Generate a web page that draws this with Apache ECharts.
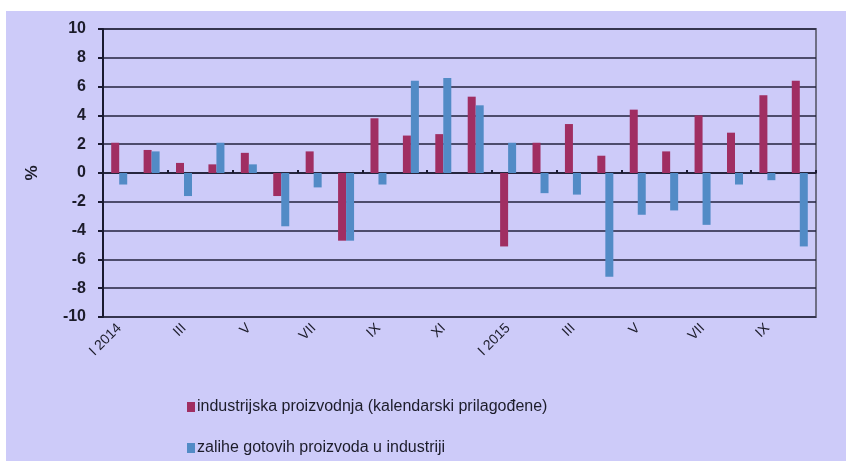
<!DOCTYPE html>
<html>
<head>
<meta charset="utf-8">
<script src="https://cdn.jsdelivr.net/npm/echarts@6/dist/echarts.min.js"></script>
<style>html,body{margin:0;padding:0;background:#fff}#c{width:846px;height:461px}</style>
</head>
<body>
<div id="c"></div>
<script>
const months = ['I 2014','II','III','IV','V','VI','VII','VIII','IX','X','XI','XII',
                'I 2015','II','III','IV','V','VI','VII','VIII','IX','X'];
const industrija = [2.1,1.6,0.7,0.6,1.4,-1.6,1.5,-4.7,3.8,2.6,2.7,5.3,
                    -5.1,2.1,3.4,1.2,4.4,1.5,4.0,2.8,5.4,6.4];
const zalihe = [-0.8,1.5,-1.6,2.1,0.6,-3.7,-1.0,-4.7,-0.8,6.4,6.6,4.7,
                2.1,-1.4,-1.5,-7.2,-2.9,-2.6,-3.6,-0.8,-0.5,-5.1];
const seriesNames = ['industrijska proizvodnja (kalendarski prilagođene)',
                     'zalihe gotovih proizvoda u industriji'];
const yMin = -10, yMax = 10, yStep = 2;

const chart = echarts.init(document.getElementById('c'));
const font = 'Liberation Sans, Arial, sans-serif';
const legendBase = {
  orient: 'horizontal', left: 182,
  itemWidth: 8, itemHeight: 10,
  icon: 'rect',
  textStyle: {fontFamily: font, fontSize: 16, color: '#1c1c2a', padding: [0,0,0,-3]}
};
chart.setOption({
  animation: false,
  backgroundColor: '#ffffff',
  graphic: [{
    type: 'rect', z: -10, silent: true,
    shape: {x: 6, y: 11, width: 840, height: 450},
    style: {fill: '#cdcbf9'}
  }],
  grid: {left: 103, right: 30, top: 29, bottom: 144,
         show: true, borderColor: '#6f6f86', borderWidth: 2, backgroundColor: '#cdcbf9'},
  legend: [
    Object.assign({}, legendBase, {top: 394, data: [seriesNames[0]]}),
    Object.assign({}, legendBase, {top: 435, data: [seriesNames[1]]})
  ],
  xAxis: [{
    type: 'category', data: months,
    axisLine: {show: false, onZero: false},
    axisTick: {show: false},
    axisLabel: {interval: 1, rotate: 45, fontFamily: font, fontSize: 14, color: '#1c1c2a', margin: 9}
  },{
    type: 'category', data: months,
    axisLine: {show: true, onZero: true, lineStyle: {color: '#1a1a30', width: 1.5}},
    axisTick: {show: true, length: 3, lineStyle: {color: '#1a1a30', width: 2}},
    axisLabel: {show: false}
  }],
  yAxis: {
    type: 'value', min: yMin, max: yMax, interval: yStep,
    name: '%', nameLocation: 'middle', nameGap: 62, nameRotate: 90,
    nameTextStyle: {fontFamily: font, fontSize: 17, fontWeight: 'bold', color: '#1c1c2a'},
    axisLine: {show: true, lineStyle: {color: '#1a1a30', width: 2}},
    axisTick: {show: true, length: 5, lineStyle: {color: '#1a1a30', width: 2}},
    axisLabel: {fontFamily: font, fontSize: 16, fontWeight: 'bold', color: '#1c1c2a', margin: 17},
    splitLine: {show: true, lineStyle: {color: '#22223c', width: 1.6}}
  },
  series: [{
    name: seriesNames[0], type: 'bar', data: industrija,
    barWidth: 8, barGap: '0%',
    itemStyle: {color: '#a02e62'}
  },{
    name: seriesNames[1], type: 'bar', data: zalihe,
    barWidth: 8, barGap: '0%',
    itemStyle: {color: '#528bc6'}
  }]
});
</script>
</body>
</html>
